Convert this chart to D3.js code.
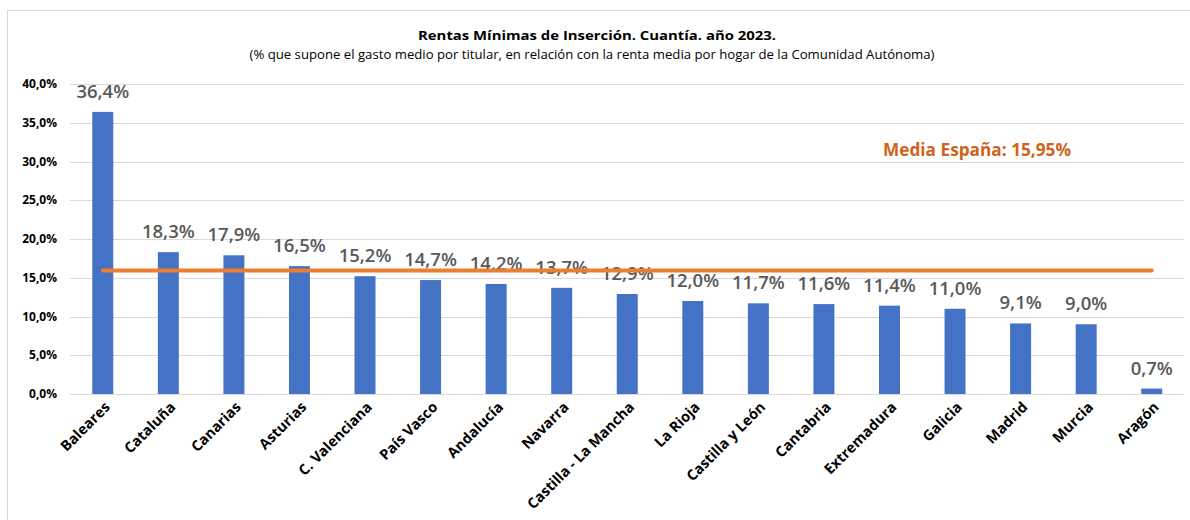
<!DOCTYPE html>
<html><head><meta charset="utf-8">
<script src="https://cdn.jsdelivr.net/npm/d3@7"></script>
<style>
body{margin:0;background:#fff}
svg{display:block}
text{font-family:"Open Sans",sans-serif}
</style>
</head><body>
<svg id="c" width="1190" height="520"></svg>
<script>
const categories = ["Baleares","Cataluña","Canarias","Asturias","C. Valenciana","País Vasco","Andalucía","Navarra","Castilla - La Mancha","La Rioja","Castilla y León","Cantabria","Extremadura","Galicia","Madrid","Murcia","Aragón"];
const values = [36.4,18.3,17.9,16.5,15.2,14.7,14.2,13.7,12.9,12.0,11.7,11.6,11.4,11.0,9.1,9.0,0.7];
const mediaEspana = 15.95;
const yTicks = [0,5,10,15,20,25,30,35,40];
const titleText = "Rentas Mínimas de Inserción. Cuantía. año 2023.";
const subtitleText = "(% que supone el gasto medio por titular, en relación con la renta media por hogar de la Comunidad Autónoma)";
const mediaLabel = "Media España: 15,95%";

const loc = d3.formatLocale({decimal:",", thousands:".", grouping:[3], currency:["","€"]});
const f1 = loc.format(".1f");

const svg = d3.select("#c");
const plotLeft = 70, plotRight = 1184.5, plotTop = 84, plotBottom = 394;

svg.append("rect").attr("x",7.5).attr("y",10.5).attr("width",1300).attr("height",600)
  .attr("fill","none").attr("stroke","#d9d9d9").attr("stroke-width",1);

const x = d3.scaleBand().domain(categories).range([plotLeft,plotRight]).paddingInner(0.68).paddingOuter(0.34);
const y = d3.scaleLinear().domain([0,40]).range([plotBottom,plotTop]);

// grid
svg.append("g").selectAll("line").data(yTicks).join("line")
  .attr("x1",plotLeft).attr("x2",plotRight)
  .attr("y1",d=>Math.round(y(d))+0.5).attr("y2",d=>Math.round(y(d))+0.5)
  .attr("stroke","#d9d9d9").attr("stroke-width",1.2);

// y labels
svg.append("g").selectAll("text").data(yTicks).join("text")
  .attr("x",57).attr("y",d=>y(d)).attr("dy","0.35em")
  .attr("text-anchor","end").attr("font-size",12).attr("font-weight","bold").attr("fill","#000")
  .text(d=>f1(d)+"%");

// bars
svg.append("g").selectAll("rect").data(values).join("rect")
  .attr("x",(d,i)=>x(categories[i])).attr("width",x.bandwidth())
  .attr("y",d=>y(d)).attr("height",d=>plotBottom-y(d))
  .attr("fill","#4472C4");

// value labels
svg.append("g").selectAll("text").data(values).join("text")
  .attr("x",(d,i)=>x(categories[i])+x.bandwidth()/2)
  .attr("y",d=>y(d)-14)
  .attr("text-anchor","middle").attr("font-size",18.5).attr("font-weight",600).attr("fill","#595959")
  .text(d=>f1(d)+"%");

// media line
const c0 = x(categories[0])+x.bandwidth()/2;
const c1 = x(categories[categories.length-1])+x.bandwidth()/2;
svg.append("line").attr("x1",c0).attr("x2",c1)
  .attr("y1",y(mediaEspana)).attr("y2",y(mediaEspana))
  .attr("stroke","#ED7D31").attr("stroke-width",4).attr("stroke-linecap","round");

svg.append("text").attr("x",977).attr("y",156).attr("text-anchor","middle")
  .attr("font-size",17.5).attr("font-weight","bold").attr("fill","#D0631C")
  .attr("textLength",188).attr("lengthAdjust","spacingAndGlyphs")
  .text(mediaLabel);

// x labels
svg.append("g").selectAll("text").data(categories).join("text")
  .attr("transform",d=>`translate(${x(d)+x.bandwidth()/2+8},${plotBottom+14}) rotate(-45)`)
  .attr("text-anchor","end").attr("font-size",14.5).attr("font-weight","bold").attr("fill","#000")
  .text(d=>d);

// titles
svg.append("text").attr("x",597).attr("y",40).attr("text-anchor","middle")
  .attr("font-size",12).attr("font-weight","bold").attr("fill","#000")
  .attr("textLength",358).attr("lengthAdjust","spacingAndGlyphs")
  .text(titleText);
svg.append("text").attr("x",592).attr("y",59).attr("text-anchor","middle")
  .attr("font-size",12).attr("fill","#000")
  .attr("textLength",685).attr("lengthAdjust","spacingAndGlyphs")
  .text(subtitleText);
</script>
</body></html>
